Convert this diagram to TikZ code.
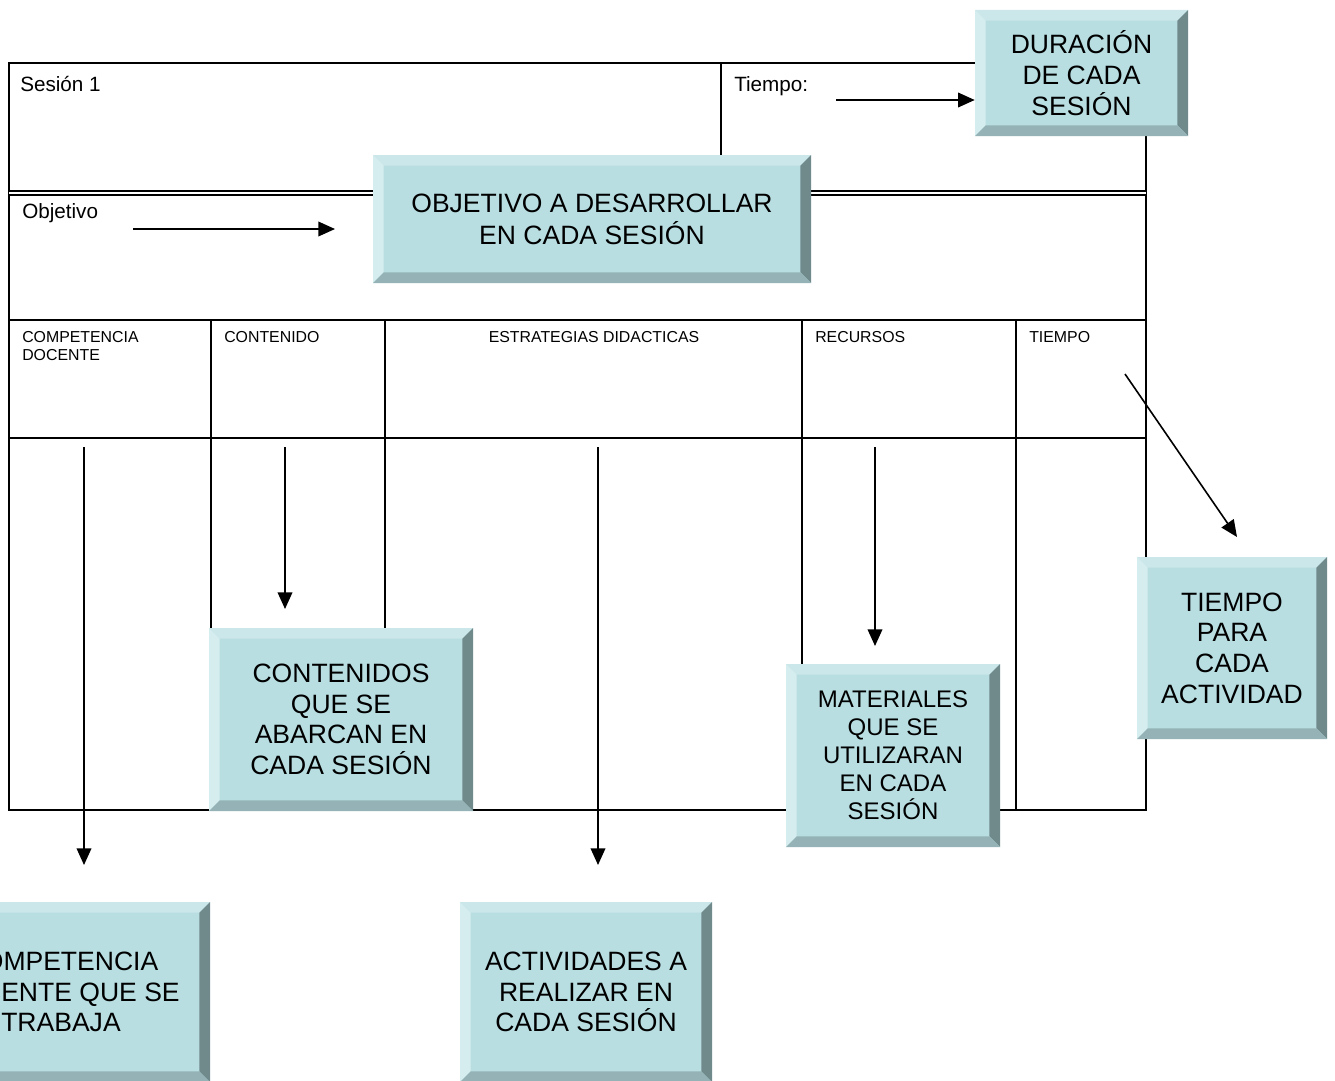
\documentclass[tikz,border=0pt]{standalone}
\usepackage{fontspec}
\setmainfont{Liberation Sans}
\usetikzlibrary{arrows.meta}

\definecolor{bevface}{RGB}{184,222,226}
\definecolor{bevtop}{RGB}{203,231,234}
\definecolor{bevleft}{RGB}{214,237,239}
\definecolor{bevright}{RGB}{112,138,140}
\definecolor{bevbottom}{RGB}{149,179,182}

\tikzset{
    bevel/.style={
        rectangle, fill=bevface, inner sep=0pt, align=center,
        font=\fontsize{19.9}{23}\selectfont,
        path picture={
            \path
                (path picture bounding box.north west) coordinate (pnw)
                (path picture bounding box.north east) coordinate (pne)
                (path picture bounding box.south west) coordinate (psw)
                (path picture bounding box.south east) coordinate (pse);
            \fill[bevtop] (pnw) -- (pne) -- ([shift={(-8pt,-8pt)}]pne) -- ([shift={(8pt,-8pt)}]pnw) -- cycle;
            \fill[bevleft] (pnw) -- ([shift={(8pt,-8pt)}]pnw) -- ([shift={(8pt,8pt)}]psw) -- (psw) -- cycle;
            \fill[bevright] (pne) -- (pse) -- ([shift={(-8pt,8pt)}]pse) -- ([shift={(-8pt,-8pt)}]pne) -- cycle;
            \fill[bevbottom] (psw) -- (pse) -- ([shift={(-8pt,8pt)}]pse) -- ([shift={(8pt,8pt)}]psw) -- cycle;
        }
    },
    bsize/.style 2 args={minimum width=#1*0.75pt, minimum height=#2*0.75pt}
}

\begin{document}
\begin{tikzpicture}[
        x=0.75pt, y=-0.75pt,
        tabline/.style={line width=1.5pt},
        cell/.style={inner sep=0pt, font=\fontsize{15.5}{18}\selectfont},
        head/.style={inner sep=0pt, align=left, font=\fontsize{11.9}{13.5}\selectfont},
        arrow/.style={line width=1.2pt, -{Triangle[length=12.5pt, width=11pt]}}
    ]
            \clip (0, 0) rectangle (1335, 1081);

            \draw[tabline]
                (9, 63) rectangle (1146, 810)
                (721, 63) -- (721, 193)
                (9, 320) -- (1146, 320)
                (9, 438) -- (1146, 438)
                (211, 320) -- (211, 810)
                (385, 320) -- (385, 810)
                (802, 320) -- (802, 810)
                (1016, 320) -- (1016, 810)
            ;
            \draw[line width=1.4pt, double, double distance=1.2pt] (9, 193) -- (1146, 193);

            \draw
                (20, 92) node (sesion) [cell, anchor=base west] {Sesión 1}
                (734, 92) node (tiempo) [cell, anchor=base west] {Tiempo:}
                (22, 218) node (objetivo) [cell, anchor=base west] {Objetivo}

                (22, 331) node (hcomp) [head, anchor=north west] {COMPETENCIA\\DOCENTE}
                (224, 342) node (hcont) [head, anchor=base west] {CONTENIDO}
                (594, 342) node (hestr) [head, anchor=base] {ESTRATEGIAS DIDACTICAS}
                (815, 342) node (hrec) [head, anchor=base west] {RECURSOS}
                (1029, 342) node (htpo) [head, anchor=base west] {TIEMPO}
            ;

            \draw
                (1081.5, 73) node (dur) [bevel, bsize={213}{126}] {DURACIÓN\\DE CADA\\SESIÓN}
                (592, 219) node (obj) [bevel, bsize={438}{128}, font=\fontsize{19.9}{24}\selectfont] {OBJETIVO A DESARROLLAR\\EN CADA SESIÓN}
                (341, 719.5) node (cont) [bevel, bsize={264}{183}] {CONTENIDOS\\QUE SE\\ABARCAN EN\\CADA SESIÓN}
                (893, 755.5) node (mat) [bevel, bsize={214}{183}, font=\fontsize{18}{21}\selectfont] {MATERIALES\\QUE SE\\UTILIZARAN\\EN CADA\\SESIÓN}
                (1232, 648) node (tpo) [bevel, bsize={190}{182}] {TIEMPO\\PARA\\CADA\\ACTIVIDAD}
                (61, 992) node (comp) [bevel, bsize={298}{180}] {COMPETENCIA\\DOCENTE QUE SE\\TRABAJA}
                (586, 992) node (act) [bevel, bsize={252}{180}] {ACTIVIDADES A\\REALIZAR EN\\CADA SESIÓN}
            ;

            \draw[arrow]
                (836, 100) coordinate (t0) -- (dur.west |- t0)
            ;
            \draw[arrow]
                (133, 229) coordinate (o0) -- (335, 229) coordinate (o1)
            ;
            \draw[arrow]
                (84, 447) coordinate (c0) -- (84, 865) coordinate (c1)
            ;
            \draw[arrow]
                (285, 447) coordinate (n0) -- (285, 609) coordinate (n1)
            ;
            \draw[arrow]
                (598, 447) coordinate (e0) -- (598, 865) coordinate (e1)
            ;
            \draw[arrow]
                (875, 447) coordinate (r0) -- (875, 646) coordinate (r1)
            ;
            \draw[arrow]
                (1125, 374) coordinate (d0) -- (1237, 537) coordinate (d1)
            ;

        \end{tikzpicture}
\end{document}
